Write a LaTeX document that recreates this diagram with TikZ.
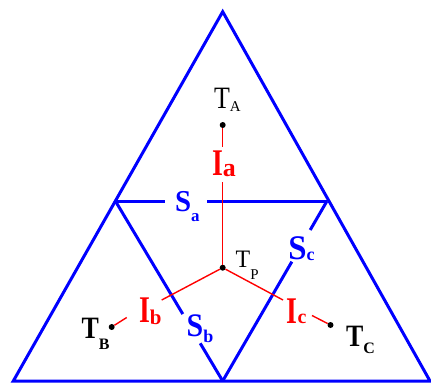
\documentclass[tikz,border=0pt]{standalone}
\usepackage{fontspec}
\setmainfont{Liberation Serif}
\usetikzlibrary{calc}
\definecolor{tblue}{RGB}{0,0,255}
\definecolor{tred}{RGB}{255,0,0}
% label: size, vertical stretch, main letter, subscript size, drop, subscript
\newcommand\tlab[6]{{\fontsize{#1}{#1}\selectfont\scalebox{1}[#2]{#3}}\raisebox{-#5bp}{\fontsize{#4}{#4}\selectfont #6}}
\begin{document}
\begin{tikzpicture}[x=1bp,y=-1bp,
  side/.style={draw=tblue,line width=3bp},
  link/.style={draw=tred,line width=1.4bp},
  dot/.style={circle,fill=black,inner sep=0pt,minimum size=6bp},
  lbl/.style={anchor=base west,inner sep=0pt,outer sep=0pt},
  tl/.style={lbl,text=black},
  il/.style={lbl,text=tred,font=\bfseries},
  sl/.style={lbl,text=tblue,font=\bfseries}]
\useasboundingbox (0,0) rectangle (431,385);
% corners
\coordinate (apex) at (222.7,11.7);
\coordinate (bl) at (13.3,381);
\coordinate (br) at (430,381);
\coordinate (ml) at (115.4,201);
\coordinate (mr) at (327,201);
\coordinate (bm) at (222.7,381);
% gap ends of the blue lines
\coordinate (sa1) at (165,201);
\coordinate (sa2) at (207.3,201);
\coordinate (sb1) at ($(ml)!0.628!(bm)$);
\coordinate (sb2) at ($(ml)!0.7906!(bm)$);
\coordinate (sc1) at ($(mr)!0.161!(bm)$);
\coordinate (sc2) at ($(mr)!0.337!(bm)$);
% blue lines
\draw[side,line join=miter] (apex) -- (bl) -- (br) -- cycle;
\draw[side] (ml) -- (sa1);
\draw[side] (sa2) -- (mr);
\draw[side] (ml) -- (sb1);
\draw[side] (sb2) -- (bm);
\draw[side] (mr) -- (sc1);
\draw[side] (sc2) -- (bm);
% points
\node[dot] (TA) at (222.7,125) {};
\node[dot] (TP) at (222.7,267.7) {};
\node[dot] (TB) at (111.7,327) {};
\node[dot] (TC) at (330.5,325) {};
% gap ends of the red lines
\coordinate (ia1) at (222.7,147);
\coordinate (ia2) at (222.7,182);
\coordinate (ib1) at (161.7,300);
\coordinate (ib2) at (126.7,317.5);
\coordinate (ic1) at (283,300);
\coordinate (ic2) at (312,315.5);
\draw[link] (TA) -- (ia1);
\draw[link] (ia2) -- (TP);
\draw[link] (TP) -- (ib1);
\draw[link] (ib2) -- (TB);
\draw[link] (TP) -- (ic1);
\draw[link] (ic2) -- (TC);
% T labels
\node[tl] (lTA) at (214,108) {\tlab{26}{1.2}{T}{15}{3}{A}};
\node[tl,font=\bfseries] (lTB) at (81.7,338) {\tlab{26}{1.2}{T}{16}{11}{B}};
\node[tl,font=\bfseries] (lTC) at (346,346) {\tlab{26}{1.2}{T}{16}{7}{C}};
\node[tl] (lTP) at (235.7,267) {\tlab{24}{1.05}{T}{15}{12}{P}};
% I labels
\node[il] (lIa) at (212,175) {\tlab{28}{1.35}{I}{26}{1.5}{a}};
\node[il] (lIb) at (139,322.5) {\tlab{28}{1.35}{I}{21}{1.5}{b}};
\node[il] (lIc) at (286.7,323) {\tlab{28}{1.35}{I}{20}{0}{c}};
% S labels
\node[sl] (lSa) at (175,211) {\tlab{29}{1.05}{S}{17}{10}{a}};
\node[sl] (lSb) at (186.7,336.5) {\tlab{30}{1.1}{S}{18}{6}{b}};
\node[sl] (lSc) at (288.3,259) {\tlab{33}{1.05}{S}{18}{1}{c}};
\end{tikzpicture}
\end{document}
